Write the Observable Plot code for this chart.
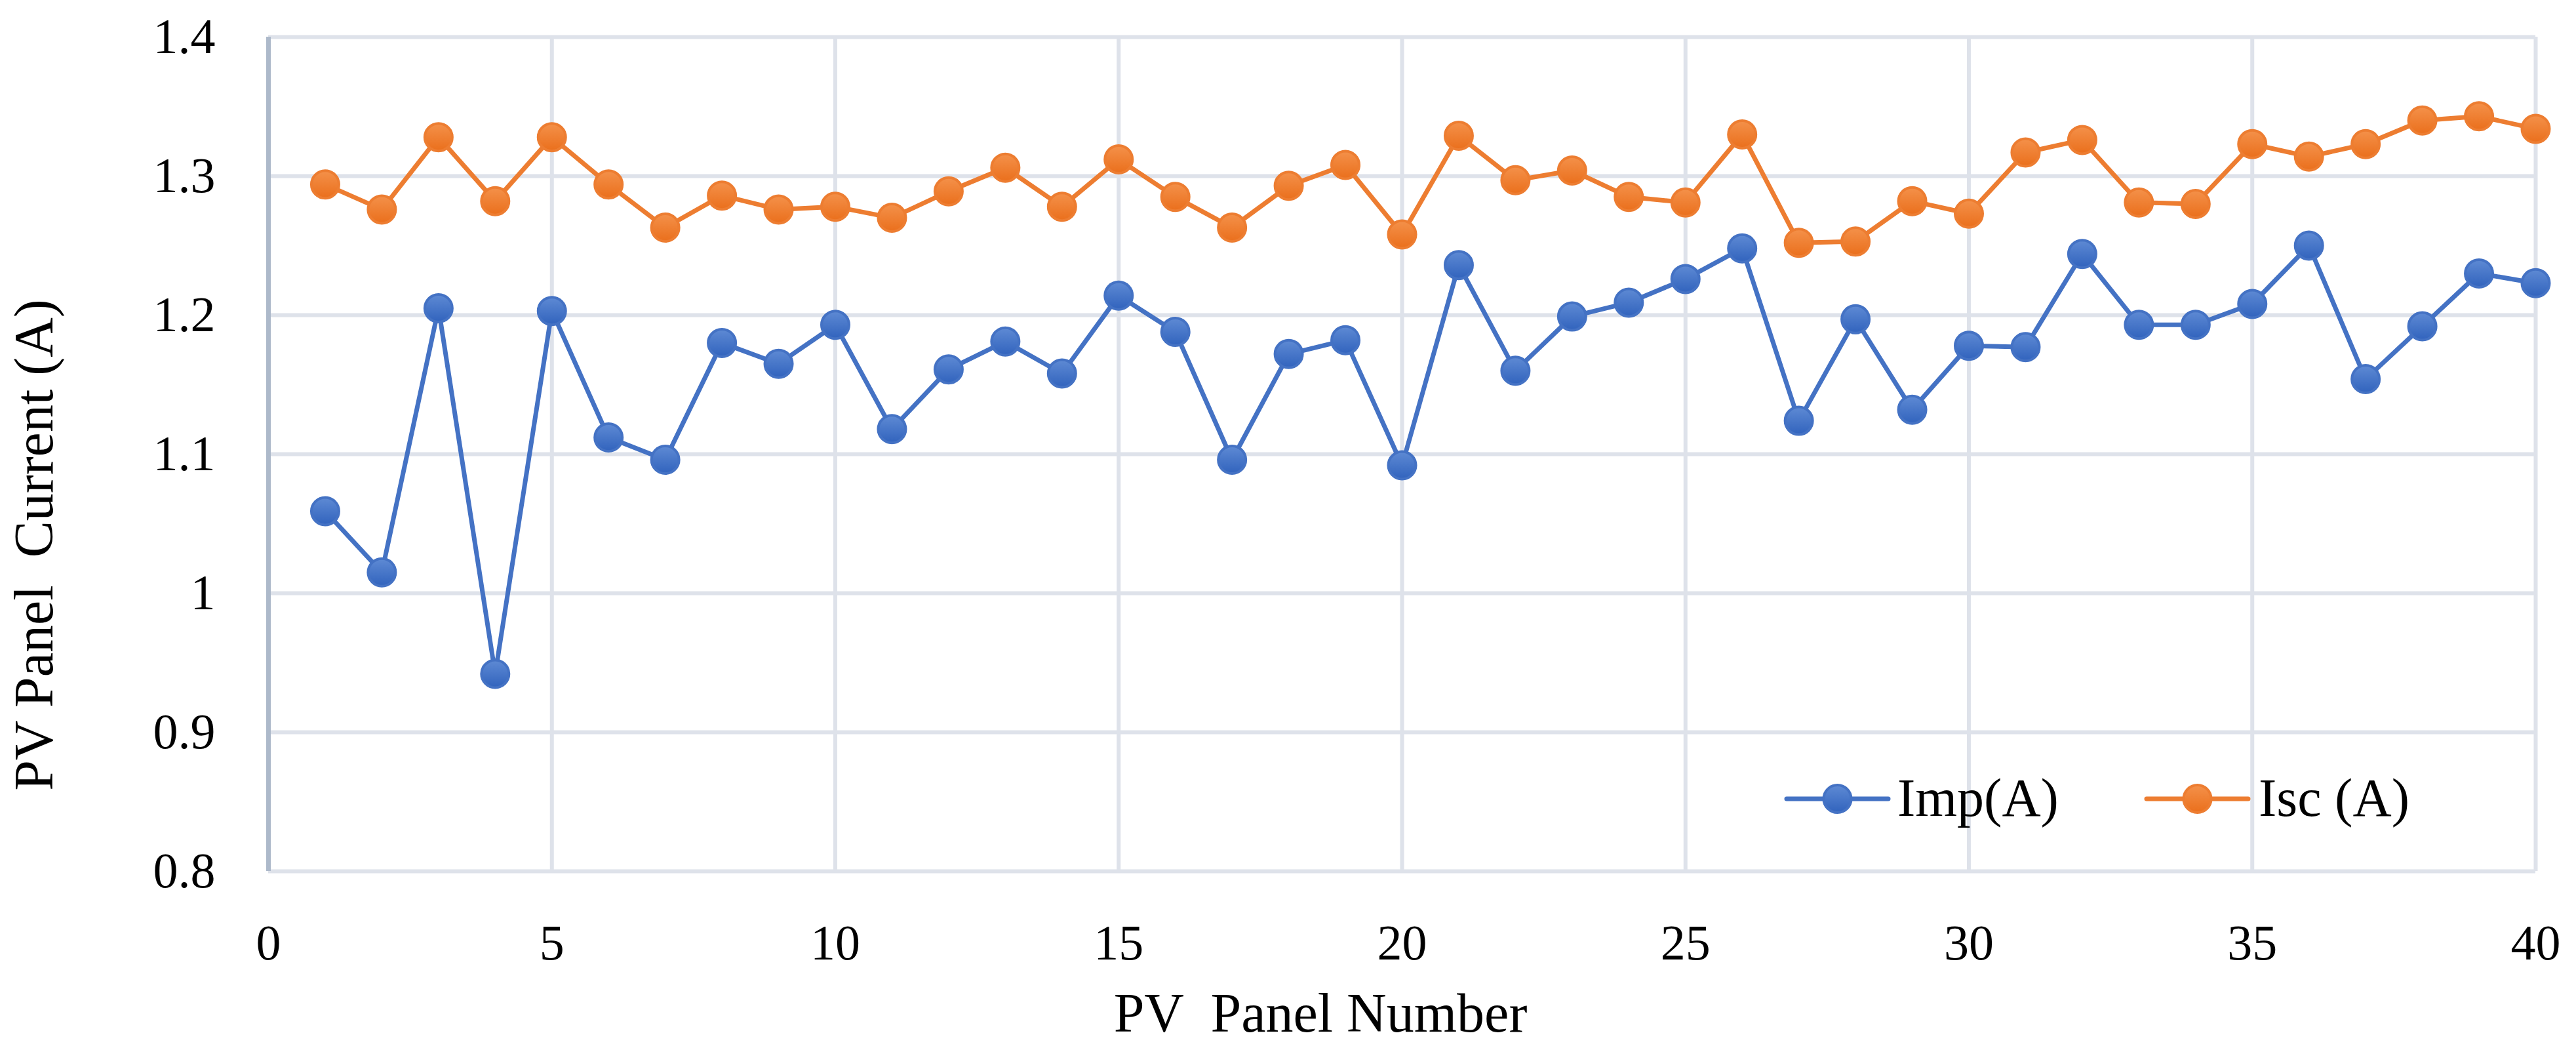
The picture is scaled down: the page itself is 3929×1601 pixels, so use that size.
<!DOCTYPE html>
<html>
<head>
<meta charset="utf-8">
<script src="https://cdn.jsdelivr.net/npm/d3@7"></script>
<script src="https://cdn.jsdelivr.net/npm/@observablehq/plot@0.6"></script>
<style>
  html, body { margin: 0; padding: 0; background: #ffffff; }
  #chart { width: 3929px; height: 1601px; }
  svg text { white-space: pre; }
</style>
</head>
<body>
<div id="chart"></div>
<script>
const panels = [1,2,3,4,5,6,7,8,9,10,11,12,13,14,15,16,17,18,19,20,21,22,23,24,25,26,27,28,29,30,31,32,33,34,35,36,37,38,39,40];
const imp = [1.059,1.015,1.205,0.942,1.203,1.112,1.096,1.180,1.165,1.193,
             1.118,1.161,1.181,1.158,1.214,1.188,1.096,1.172,1.182,1.092,
             1.236,1.160,1.199,1.209,1.226,1.248,1.124,1.197,1.132,1.178,
             1.177,1.244,1.193,1.193,1.208,1.250,1.154,1.192,1.230,1.223];
const isc = [1.294,1.276,1.328,1.282,1.328,1.294,1.263,1.286,1.276,1.278,
             1.270,1.289,1.306,1.278,1.312,1.285,1.263,1.293,1.308,1.258,
             1.329,1.297,1.304,1.285,1.281,1.330,1.252,1.253,1.282,1.273,
             1.317,1.326,1.281,1.280,1.323,1.314,1.323,1.340,1.343,1.334];
const seriesNames = ["Imp(A)", "Isc (A)"];
const seriesColors = ["#4472C4", "#ED7D31"];
const xTicks = [0,5,10,15,20,25,30,35,40];
const yTicks = [0.8,0.9,1.0,1.1,1.2,1.3,1.4];
const xTitle = "PV  Panel Number";
const yTitle = "PV Panel  Current (A)";

const impData = panels.map((p, i) => ({panel: p, value: imp[i]}));
const iscData = panels.map((p, i) => ({panel: p, value: isc[i]}));

const W = 3929, H = 1601;
const FONT = "'Liberation Serif', 'DejaVu Serif', serif";

const chart = Plot.plot({
  width: W,
  height: H,
  marginLeft: 409,
  marginRight: 62,
  marginTop: 56,
  marginBottom: 273,
  style: {fontFamily: FONT, fontSize: "76px", color: "#000", background: "#fff", overflow: "visible"},
  x: {domain: [0, 40], ticks: xTicks},
  y: {domain: [0.8, 1.4], ticks: yTicks},
  marks: [
    Plot.gridX(xTicks, {stroke: "#DEE2EA", strokeOpacity: 1, strokeWidth: 6}),
    Plot.gridY(yTicks, {stroke: "#DEE2EA", strokeOpacity: 1, strokeWidth: 6}),
    Plot.ruleX([0], {stroke: "#ADB9CA", strokeWidth: 7}),
    Plot.axisX(xTicks, {tickSize: 0, tickPadding: 81, fontSize: 76, label: null, tickFormat: d => String(d)}),
    Plot.axisY(yTicks, {tickSize: 0, tickPadding: 81, fontSize: 76, label: null, tickFormat: d => String(+d.toFixed(1))}),
    Plot.line(impData, {x: "panel", y: "value", stroke: seriesColors[0], strokeWidth: 7}),
    Plot.dot(impData, {x: "panel", y: "value", r: 21, fill: "url(#gradBlue)", stroke: seriesColors[0], strokeWidth: 4}),
    Plot.line(iscData, {x: "panel", y: "value", stroke: seriesColors[1], strokeWidth: 7}),
    Plot.dot(iscData, {x: "panel", y: "value", r: 21, fill: "url(#gradOrange)", stroke: seriesColors[1], strokeWidth: 4})
  ]
});

document.getElementById("chart").appendChild(chart);

const svg = d3.select(chart);
const defs = svg.insert("defs", ":first-child");
function grad(id, top, bottom) {
  const g = defs.append("linearGradient").attr("id", id).attr("x1", 0).attr("y1", 0).attr("x2", 0).attr("y2", 1);
  g.append("stop").attr("offset", "0%").attr("stop-color", top);
  g.append("stop").attr("offset", "100%").attr("stop-color", bottom);
}
grad("gradBlue", "#5E8AD4", "#3163BD");
grad("gradOrange", "#F4914A", "#EA6F1C");

// axis titles
svg.append("text")
  .attr("x", 2014).attr("y", 1573)
  .attr("text-anchor", "middle")
  .attr("font-family", FONT).attr("font-size", 84).attr("fill", "#000")
  .attr("xml:space", "preserve")
  .text(xTitle);
svg.append("text")
  .attr("transform", "translate(80,831) rotate(-90)")
  .attr("text-anchor", "middle")
  .attr("font-family", FONT).attr("font-size", 84).attr("fill", "#000")
  .attr("xml:space", "preserve")
  .text(yTitle);

// legend
const legend = svg.append("g").attr("text-anchor", "start");
const items = [
  {name: seriesNames[0], color: seriesColors[0], grad: "url(#gradBlue)", x0: 2725, x1: 2880, tx: 2894},
  {name: seriesNames[1], color: seriesColors[1], grad: "url(#gradOrange)", x0: 3274, x1: 3429, tx: 3445}
];
const ly = 1218;
items.forEach(it => {
  legend.append("line").attr("x1", it.x0).attr("x2", it.x1).attr("y1", ly).attr("y2", ly)
    .attr("stroke", it.color).attr("stroke-width", 7).attr("stroke-linecap", "round");
  legend.append("circle").attr("cx", (it.x0 + it.x1) / 2).attr("cy", ly).attr("r", 21)
    .attr("fill", it.grad).attr("stroke", it.color).attr("stroke-width", 4);
  legend.append("text").attr("x", it.tx).attr("y", ly + 26)
    .attr("text-anchor", "start")
    .attr("font-family", FONT).attr("font-size", 82).attr("fill", "#000")
    .attr("xml:space", "preserve")
    .text(it.name);
});
</script>
</body>
</html>
